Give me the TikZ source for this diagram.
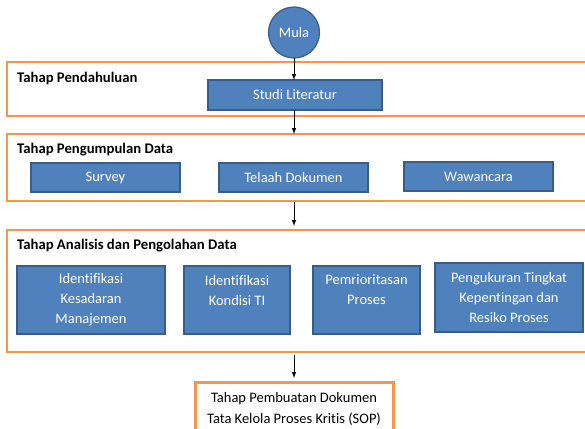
\documentclass[tikz,border=0pt]{standalone}
\usepackage{fontspec}
\setmainfont{Carlito}[Ligatures=NoCommon]
\usepackage{xcolor}
\usepackage{tikz}
\usetikzlibrary{
    shapes,
    positioning,
    calc,
    arrows
}
\definecolor{procblue}{HTML}{4F81BD}
\definecolor{procedge}{HTML}{385D8A}
\definecolor{stageorange}{HTML}{F79646}
\tikzset{
  basic/.style = {
      draw=procedge,
      line width=1.2pt,
      fill=procblue,
      text=white,
      font=\fontsize{14.5}{20}\selectfont,
      align=center,
      inner sep=0pt,
      outer sep=0pt
  },
  procbox/.style = {
      basic,
      rectangle
  },
  startnode/.style = {
      basic,
      circle,
      minimum size=51pt
  },
  stageframe/.style = {
      draw=stageorange,
      line width=2.4pt,
      rectangle,
      anchor=north west,
      minimum width=590pt,
      inner sep=0pt,
      outer sep=0pt
  },
  stagelabel/.style = {
      font=\fontsize{14.7}{20}\selectfont\bfseries,
      anchor=west,
      inner sep=0pt
  },
  sopbox/.style = {
      draw=stageorange,
      line width=3pt,
      rectangle,
      anchor=north,
      font=\fontsize{14.5}{21}\selectfont,
      align=center,
      minimum width=198pt,
      minimum height=53pt,
      inner sep=0pt,
      outer sep=0pt
  },
  flow/.style = {
      ->,
      >=latex,
      line width=1pt
  }
}

\begin{document}
\begin{tikzpicture}[x=1pt, y=-1pt]
    \fill[white] (0,0) rectangle (585,428);
    \useasboundingbox (0,0) rectangle (585,428);
    \clip (0,0) rectangle (585,428);
    % Stages
    \node[stageframe, minimum height=54pt] (pendahuluan) at (7,62) {};
    \node[stageframe, minimum height=67pt] (pengumpulan) at (7,134) {};
    \node[stageframe, minimum height=122pt] (analisis) at (7,230) {};
    \node[stagelabel] (pendahuluan-lbl) at (17,78) {Tahap Pendahuluan};
    \node[stagelabel] (pengumpulan-lbl) at (17,150) {Tahap Pengumpulan Data};
    \node[stagelabel] (analisis-lbl) at (17,246) {Tahap Analisis dan Pengolahan Data};
    % Steps
    \node[startnode] (mula) at (294,32.5) {Mula};
    \node[procbox, minimum width=174pt, minimum height=30pt] (studi) at (295,95) {Studi Literatur};
    \node[procbox, minimum width=149pt, minimum height=29pt] (survey) at (105.5,177.5) {Survey};
    \node[procbox, minimum width=149pt, minimum height=29pt] (telaah) at (293.5,177.5) {Telaah Dokumen};
    \node[procbox, minimum width=149pt, minimum height=29pt] (wawancara) at (478.5,176.5) {Wawancara};
    \node[procbox, minimum width=148pt, minimum height=68pt] (kesadaran) at (91,300) {Identifikasi\\Kesadaran\\Manajemen};
    \node[procbox, minimum width=106pt, minimum height=68pt] (kondisi) at (237,300) {Identifikasi\\Kondisi TI\\\mbox{}};
    \node[procbox, minimum width=107pt, minimum height=68pt] (prioritas) at (366.5,300) {Pemrioritasan\\Proses\\\mbox{}};
    \node[procbox, minimum width=148pt, minimum height=69pt] (pengukuran) at (509,297.5) {Pengukuran Tingkat\\Kepentingan dan\\Resiko Proses};
    \node[sopbox] (sop) at (294,382) {Tahap Pembuatan Dokumen\\Tata Kelola Proses Kritis (SOP)};
    % Edges
    \draw[flow] (mula) -- (mula |- studi.north);
    \draw[flow] (mula |- studi.south) -- (mula |- pengumpulan.north);
    \draw[flow, shorten <=1pt, shorten >=4pt] (mula |- pengumpulan.south) -- (mula |- analisis.north);
    \draw[flow, shorten <=3pt, shorten >=4pt] (mula |- analisis.south) -- (mula |- sop.north);
\end{tikzpicture}
\end{document}
